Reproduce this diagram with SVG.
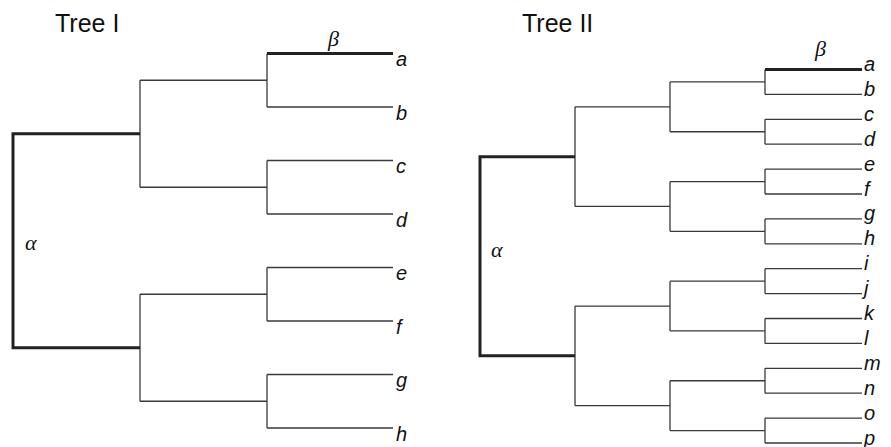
<svg xmlns="http://www.w3.org/2000/svg" width="891" height="447" viewBox="0 0 891 447">
<style>
.thin{fill:none;stroke:#3a3a3a;stroke-width:1.3;stroke-linecap:butt}
.thick{fill:none;stroke:#222;stroke-width:3;stroke-linecap:butt;stroke-linejoin:miter}
.title{font-family:"Liberation Sans",Arial,sans-serif;font-size:25px;fill:#111}
.leaf{font-family:"Liberation Sans",Arial,sans-serif;font-style:italic;font-size:20px;fill:#111}
.greek{font-family:"Liberation Serif","DejaVu Serif",serif;font-style:italic;font-size:22px;fill:#111}
</style>
<rect width="891" height="447" fill="#fff"/>
<g id="titles">
<text class="title" x="55" y="32">Tree I</text>
<text class="title" x="522" y="32">Tree II</text>
</g>
<g id="connectors">
<!-- Tree I -->
<path class="thin" d="M140 80.25V187.25M140 80.25H267M140 187.25H267M267 53.5V107M267 107H393M267 160.5V214M267 160.5H393M267 214H393M140 294.25V401.25M140 294.25H267M140 401.25H267M267 267.5V321M267 267.5H393M267 321H393M267 374.5V428M267 374.5H393M267 428H393"/>
<path class="thick" d="M140 133.75H13V347.75H140M267 53.5H393"/>
<!-- Tree II -->
<path class="thin" d="M575 106.85V206.45M575 106.85H670M575 206.45H670M575 306.05V405.65M575 306.05H670M575 405.65H670M670 81.95V131.75M670 81.95H765M670 131.75H765M670 181.55V231.35M670 181.55H765M670 231.35H765M670 281.15V330.95M670 281.15H765M670 330.95H765M670 380.75V430.55M670 380.75H765M670 430.55H765M765 69.5V94.4M765 94.4H862M765 119.3V144.2M765 119.3H862M765 144.2H862M765 169.1V194M765 169.1H862M765 194H862M765 218.9V243.8M765 218.9H862M765 243.8H862M765 268.7V293.6M765 268.7H862M765 293.6H862M765 318.5V343.4M765 318.5H862M765 343.4H862M765 368.3V393.2M765 368.3H862M765 393.2H862M765 418.1V443M765 418.1H862M765 443H862"/>
<path class="thick" d="M575 156.65H480V355.85H575M765 69.5H862"/>
</g>
<g id="tree1-labels">
<g id="t1-beta"><text class="greek" x="328" y="46">β</text></g>
<g id="t1-alpha"><text class="greek" x="25" y="250">α</text></g>
<g id="t1-a"><text class="leaf" x="396" y="66">a</text></g>
<g id="t1-b"><text class="leaf" x="396" y="119.5">b</text></g>
<g id="t1-c"><text class="leaf" x="396" y="173">c</text></g>
<g id="t1-d"><text class="leaf" x="396" y="226.5">d</text></g>
<g id="t1-e"><text class="leaf" x="396" y="280">e</text></g>
<g id="t1-f"><text class="leaf" x="396" y="333.5">f</text></g>
<g id="t1-g"><text class="leaf" x="396" y="387">g</text></g>
<g id="t1-h"><text class="leaf" x="396" y="440.5">h</text></g>
</g>
<g id="tree2-labels">
<g id="t2-beta"><text class="greek" x="815" y="56">β</text></g>
<g id="t2-alpha"><text class="greek" x="491" y="257">α</text></g>
<g id="t2-a"><text class="leaf" x="864" y="71">a</text></g>
<g id="t2-b"><text class="leaf" x="864" y="95.9">b</text></g>
<g id="t2-c"><text class="leaf" x="864" y="120.8">c</text></g>
<g id="t2-d"><text class="leaf" x="864" y="145.7">d</text></g>
<g id="t2-e"><text class="leaf" x="864" y="170.6">e</text></g>
<g id="t2-f"><text class="leaf" x="864" y="195.5">f</text></g>
<g id="t2-g"><text class="leaf" x="864" y="220.4">g</text></g>
<g id="t2-h"><text class="leaf" x="864" y="245.3">h</text></g>
<g id="t2-i"><text class="leaf" x="864" y="270.2">i</text></g>
<g id="t2-j"><text class="leaf" x="864" y="295.1">j</text></g>
<g id="t2-k"><text class="leaf" x="864" y="320">k</text></g>
<g id="t2-l"><text class="leaf" x="864" y="344.9">l</text></g>
<g id="t2-m"><text class="leaf" x="864" y="369.8">m</text></g>
<g id="t2-n"><text class="leaf" x="864" y="394.7">n</text></g>
<g id="t2-o"><text class="leaf" x="864" y="419.6">o</text></g>
<g id="t2-p"><text class="leaf" x="864" y="444.5">p</text></g>
</g>
</svg>
